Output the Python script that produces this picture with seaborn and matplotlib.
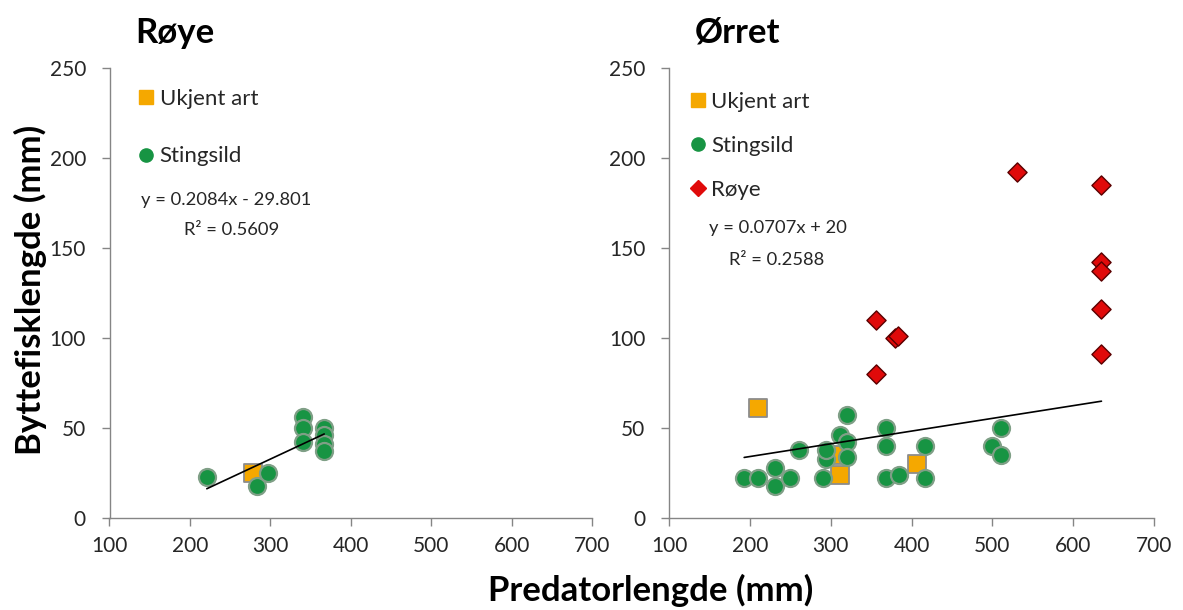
import matplotlib
matplotlib.use("Agg")
import matplotlib.pyplot as plt
import seaborn as sns
import numpy as np
import pandas as pd
from matplotlib.lines import Line2D

# ---------------- data ----------------
panel_titles = ["Røye", "Ørret"]

# Left panel (predator: Røye)
roye_ukjent_x = [279]
roye_ukjent_y = [25]
roye_sting_x = [221, 284, 297, 340, 340, 340, 367, 367, 367, 367]
roye_sting_y = [23, 18, 25, 56, 50, 42, 50, 46, 41, 37]
roye_trend = (0.2084, -29.801)
roye_eq = ["y = 0.2084x - 29.801", "R² = 0.5609"]

# Right panel (predator: Ørret)
orret_ukjent_x = [210, 305, 311, 407]
orret_ukjent_y = [61, 35, 24, 30]
orret_sting_x = [193, 210, 231, 231, 250, 261, 291, 294, 294, 311, 320, 320, 320,
                 369, 369, 369, 384, 417, 417, 499, 511, 511]
orret_sting_y = [22, 22, 28, 18, 22, 38, 22, 33, 38, 46, 57, 42, 34,
                 50, 40, 22, 24, 40, 22, 40, 50, 35]
orret_roye_x = [356, 356, 380, 383, 531, 635, 635, 635, 635, 635]
orret_roye_y = [110, 80, 100, 101, 192, 185, 142, 137, 116, 91]
orret_trend = (0.0707, 20)
orret_eq = ["y = 0.0707x + 20", "R² = 0.2588"]

x_ticks = [100, 200, 300, 400, 500, 600, 700]
y_ticks = [0, 50, 100, 150, 200, 250]
x_label = "Predatorlengde (mm)"
y_label = "Byttefisklengde (mm)"

# ---------------- style ----------------
sns.set_theme(style="white")
plt.rcParams["font.family"] = ["Lato", "DejaVu Sans"]

C_ORANGE = "#f5a800"
C_GREEN = "#179443"
C_RED = "#e00a0a"
EDGE_GRAY = "#8c8c8c"
AX_GRAY = "#858585"

W, H = 1183, 610
fig = plt.figure(figsize=(W / 100, H / 100), dpi=100)

def px_axes(x0, x1, y0, y1):
    return fig.add_axes([x0 / W, 1 - y1 / H, (x1 - x0) / W, (y1 - y0) / H])

axL = px_axes(109.5, 592, 68, 518)
axR = px_axes(669, 1154, 68, 518)

series_style = {
    "Ukjent art": dict(marker="s", color=C_ORANGE, edgecolor=EDGE_GRAY, s=150, linewidth=1.3),
    "Stingsild": dict(marker="o", color=C_GREEN, edgecolor="#7f9f86", s=150, linewidth=1.6),
    "Røye": dict(marker="D", color=C_RED, edgecolor="#5a0000", s=95, linewidth=1.0),
}

def draw_panel(ax, series, trend, eq, eq_pos, leg_anchor, leg_spacing):
    allx = []
    for name, xs, ys in series:
        df = pd.DataFrame({"x": xs, "y": ys})
        st = series_style[name]
        sns.scatterplot(data=df, x="x", y="y", ax=ax, marker=st["marker"], color=st["color"],
                        edgecolor=st["edgecolor"], s=st["s"], linewidth=st["linewidth"],
                        zorder=3, legend=False)
        allx += list(xs)
    xl = np.array([min(allx), max(allx)])
    yl = trend[0] * xl + trend[1]
    sns.lineplot(x=xl, y=yl, ax=ax, color="black", linewidth=1.2, zorder=4)

    ax.set_xlim(100, 700)
    ax.set_ylim(0, 250)
    ax.set_xticks(x_ticks)
    ax.set_yticks(y_ticks)
    ax.set_xlabel("")
    ax.set_ylabel("")
    for side in ["top", "right"]:
        ax.spines[side].set_visible(False)
    for side in ["left", "bottom"]:
        ax.spines[side].set_color(AX_GRAY)
        ax.spines[side].set_linewidth(1.0)
    ax.tick_params(axis="both", colors=AX_GRAY, length=6, width=1.0, direction="out",
                   labelsize=15, labelcolor="#262626")
    ax.tick_params(axis="y", pad=11)
    ax.tick_params(axis="x", pad=7)
    ax.tick_params(axis="both", which="both", bottom=True, left=True)

    handles = []
    for name, xs, ys in series:
        st = series_style[name]
        ms = 9.5 if st["marker"] != "D" else 8
        handles.append(Line2D([], [], linestyle="none", marker=st["marker"],
                              markerfacecolor=st["color"], markeredgecolor=st["color"],
                              markersize=ms, label=name))
    ax.legend(handles=handles, loc="upper left", bbox_to_anchor=leg_anchor, frameon=False,
              fontsize=16, handlelength=0.7, handletextpad=0.25, borderpad=0, borderaxespad=0,
              labelspacing=leg_spacing)

    (x1, y1), (x2, y2) = eq_pos
    ax.text(x1, y1, eq[0], transform=ax.transAxes, ha="center", va="center",
            fontsize=13.2, color="#262626")
    ax.text(x2, y2, eq[1], transform=ax.transAxes, ha="center", va="center",
            fontsize=13.2, color="#262626")

draw_panel(axL,
           [("Ukjent art", roye_ukjent_x, roye_ukjent_y),
            ("Stingsild", roye_sting_x, roye_sting_y)],
           roye_trend, roye_eq,
           [(0.241, 0.707), (0.254, 0.64)],
           (0.06, 0.954), 1.7)

draw_panel(axR,
           [("Ukjent art", orret_ukjent_x, orret_ukjent_y),
            ("Stingsild", orret_sting_x, orret_sting_y),
            ("Røye", orret_roye_x, orret_roye_y)],
           orret_trend, orret_eq,
           [(0.225, 0.644), (0.221, 0.573)],
           (0.043, 0.947), 1.08)

# panel titles
fig.text(135 / W, 1 - 33 / H, panel_titles[0], ha="left", va="center",
         fontsize=25, fontweight="bold", color="black")
fig.text(695 / W, 1 - 33 / H, panel_titles[1], ha="left", va="center",
         fontsize=25, fontweight="bold", color="black")

# axis labels
fig.text(651 / W, 1 - 590 / H, x_label, ha="center", va="center",
         fontsize=25, fontweight="bold", color="black")
fig.text(30 / W, 1 - 290 / H, y_label, ha="center", va="center", rotation=90,
         fontsize=25, fontweight="bold", color="black")

fig.savefig("out.png", dpi=100, facecolor="white")
